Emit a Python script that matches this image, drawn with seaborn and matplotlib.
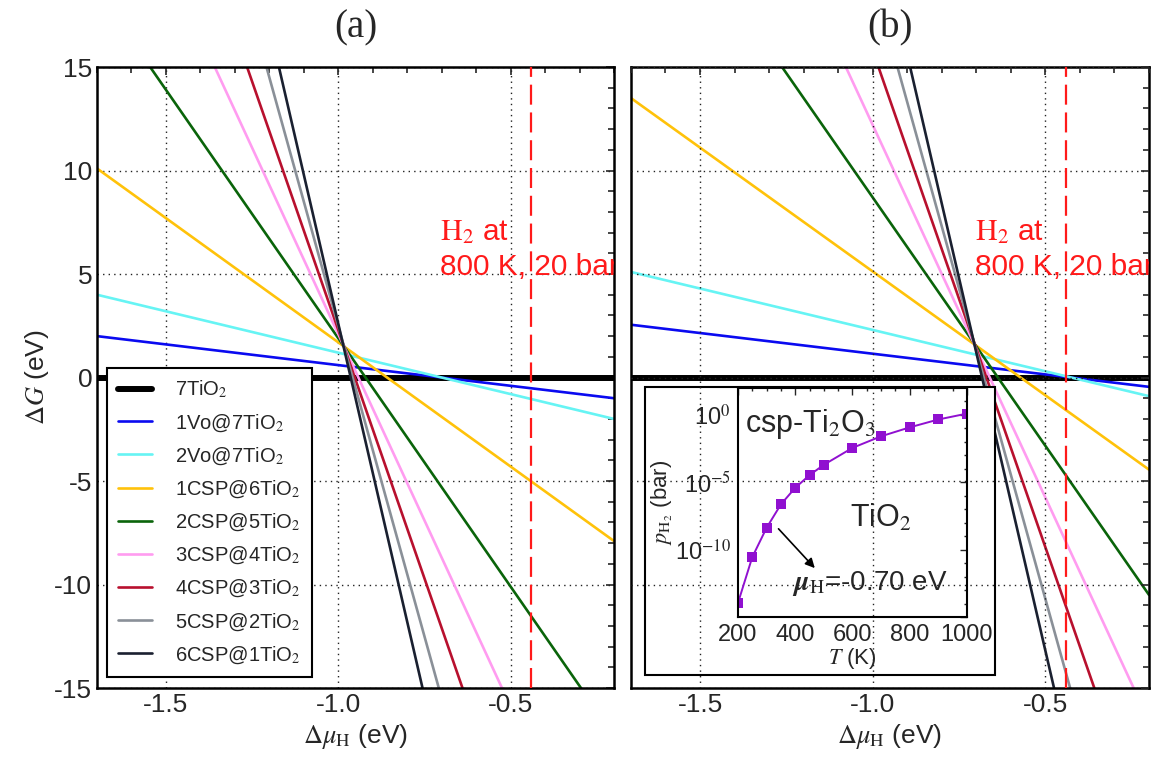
import numpy as np
import pandas as pd
import seaborn as sns
import matplotlib.pyplot as plt
from matplotlib.patches import Rectangle
from matplotlib.ticker import MultipleLocator, FixedLocator, FuncFormatter, NullFormatter

# line data: Delta G (eV) read at both ends of the mu_H axis
mu_ends = [-1.7, -0.2]
species = ["7TiO$_2$", "1Vo@7TiO$_2$", "2Vo@7TiO$_2$", "1CSP@6TiO$_2$", "2CSP@5TiO$_2$",
           "3CSP@4TiO$_2$", "4CSP@3TiO$_2$", "5CSP@2TiO$_2$", "6CSP@1TiO$_2$"]
colors = ["#000000", "#0a0af0", "#66f4f4", "#ffc20a", "#0a640a",
          "#ff9cf0", "#b8102e", "#8a9098", "#1a2030"]
dG_a_left = [0.0, 2.0, 4.0, 10.1, 18.7, 27.3, 35.9, 44.5, 53.0]
dG_a_right = [0.0, -1.0, -2.0, -7.9, -17.3, -26.7, -36.1, -45.5, -55.0]
dG_b_left = [0.0, 2.55, 5.1, 13.5, 25.5, 37.4, 49.4, 61.3, 73.2]
dG_b_right = [0.0, -0.45, -0.9, -4.45, -10.5, -16.6, -22.6, -28.7, -34.8]
mu_h2 = -0.44

# inset: equilibrium H2 pressure
T_K = [200, 250, 300, 350, 400, 450, 500, 600, 700, 800, 900, 1000]
p_H2 = [1.1e-14, 2.8e-11, 4.2e-9, 2.3e-7, 3.9e-6, 3.4e-5, 2.0e-4, 3.6e-3, 2.6e-2, 0.12, 0.46, 1.26]

sns.set_style("white")
plt.rcParams['font.family'] = ['Liberation Sans', 'DejaVu Sans']
plt.rcParams['mathtext.fontset'] = 'stix'
plt.rcParams['axes.unicode_minus'] = False


def long_df(left, right):
    rows = []
    for s, l, r in zip(species, left, right):
        rows.append((s, mu_ends[0], l))
        rows.append((s, mu_ends[1], r))
    return pd.DataFrame(rows, columns=["species", "mu", "dG"])


fig = plt.figure(figsize=(11.52, 7.59), dpi=100)
ax_a = fig.add_axes([0.0842, 0.0935, 0.4488, 0.8182])
ax_b = fig.add_axes([0.5477, 0.0935, 0.4497, 0.8182])

for ax, left, right, title in [(ax_a, dG_a_left, dG_a_right, "(a)"),
                               (ax_b, dG_b_left, dG_b_right, "(b)")]:
    sns.lineplot(data=long_df(left, right), x="mu", y="dG", hue="species",
                 hue_order=species, palette=dict(zip(species, colors)),
                 linewidth=1.9, legend=False, ax=ax)
    ax.lines[0].set_linewidth(4.3)
    ax.axvline(mu_h2, color="#ff1a1a", lw=1.6, dashes=(9, 3.5), zorder=3)
    ax.text(-0.705, 6.65, r"$\mathrm{H}_2$ at", color="#ff1a1a", fontsize=21.5,
            va="baseline", clip_on=True)
    ax.text(-0.705, 4.95, "800 K, 20 bar", color="#ff1a1a", fontsize=21.5,
            va="baseline", clip_on=True)
    ax.set_xlim(-1.7, -0.2)
    ax.set_ylim(-15, 15)
    ax.xaxis.set_major_locator(FixedLocator([-1.5, -1.0, -0.5]))
    ax.xaxis.set_minor_locator(MultipleLocator(0.1))
    ax.yaxis.set_major_locator(MultipleLocator(5))
    ax.yaxis.set_minor_locator(MultipleLocator(1))
    ax.grid(True, which="major", linestyle=(0, (1, 3)), color="#222222", lw=1.0)
    ax.tick_params(which="both", direction="in", top=True, right=True,
                   labelsize=19, width=1.2)
    ax.tick_params(which="major", length=6)
    ax.tick_params(which="minor", length=4)
    for sp in ax.spines.values():
        sp.set_linewidth(1.8)
        sp.set_color("black")
    ax.set_xlabel(r"$\Delta\mu_\mathrm{H}$ (eV)", fontsize=19, labelpad=4)
    ax.text(0.5, 1.063, title, transform=ax.transAxes, ha="center", va="center",
            fontsize=28, family="Liberation Serif")

ax_a.set_axisbelow(True)
ax_b.set_axisbelow(False)
ax_a.set_ylabel(r"$\Delta G$ (eV)", fontsize=19, labelpad=2)
ax_b.set_ylabel("")
ax_b.tick_params(labelleft=False)

leg = ax_a.legend(handles=ax_a.lines[:9], labels=species, loc="lower left",
                  bbox_to_anchor=(0.019, 0.018), borderaxespad=0, fontsize=14.5,
                  labelspacing=0.58, borderpad=0.55, handlelength=1.7,
                  handletextpad=1.15, fancybox=False, framealpha=1)
leg.get_frame().set_edgecolor("black")
leg.get_frame().set_linewidth(1.5)

# inset box in panel (b); main grid stays visible through it
ax_b.add_patch(Rectangle((0.027, 0.021), 0.676, 0.464, transform=ax_b.transAxes,
                         facecolor="white", edgecolor="black", lw=1.5, zorder=2.2))

axin = fig.add_axes([0.6406, 0.1871, 0.1988, 0.3017])
axin.patch.set_alpha(0)
sns.lineplot(x=T_K, y=p_H2, marker="s", color="#9010d0", markersize=6.5,
             markeredgewidth=0, linewidth=1.4, ax=axin)
axin.set_yscale("log")
axin.set_xlim(200, 1000)
axin.set_ylim(1e-15, 1e2)
axin.xaxis.set_major_locator(MultipleLocator(200))
axin.xaxis.set_minor_locator(MultipleLocator(50))
axin.yaxis.set_major_locator(FixedLocator([1e-15, 1e-10, 1e-5, 1e0]))
axin.yaxis.set_minor_locator(FixedLocator([10.0 ** e for e in range(-15, 2) if e % 5]))
axin.yaxis.set_minor_formatter(NullFormatter())
axin.yaxis.set_major_formatter(FuncFormatter(
    lambda v, pos: "" if v < 1e-12 else "10$^{%d}$" % round(np.log10(v))))
axin.grid(False)
axin.tick_params(which="both", direction="in", top=True, right=True, labelsize=17,
                 width=1.0, pad=5)
axin.tick_params(which="major", length=5)
axin.tick_params(which="minor", length=2.5)
for sp in axin.spines.values():
    sp.set_linewidth(1.5)
    sp.set_color("black")
axin.set_xlabel("$T$ (K)", fontsize=16, labelpad=0)
axin.set_ylabel(r"$p_{\mathrm{H}_2}$ (bar)", fontsize=16, labelpad=0)
axin.text(225, 2e-1, "csp-Ti$_2$O$_3$", fontsize=22, va="center")
axin.text(590, 2e-8, "TiO$_2$", fontsize=22, va="center")
axin.text(390, 3e-13, r"$\boldsymbol{\mu}_\mathrm{H}$=-0.70 eV", fontsize=20, va="center")
axin.annotate("", xy=(475, 3e-12), xytext=(335, 5e-9),
              arrowprops=dict(arrowstyle="-|>", color="black", lw=1.2, mutation_scale=14))

fig.savefig("out.png", dpi=100)
